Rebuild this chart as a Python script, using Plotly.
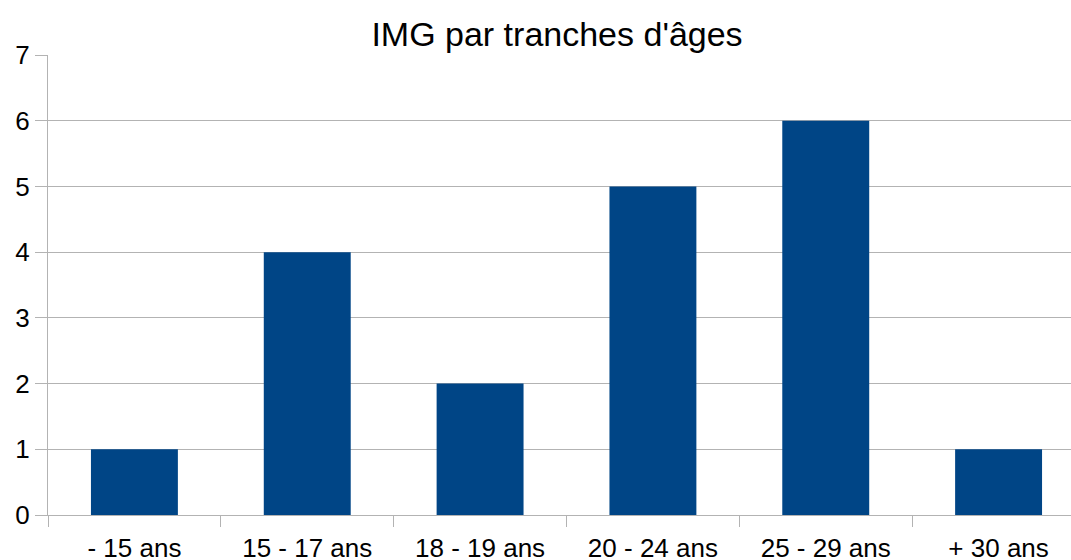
import plotly.graph_objects as go

categories = ["- 15 ans", "15 - 17 ans", "18 - 19 ans", "20 - 24 ans", "25 - 29 ans", "+ 30 ans"]
values = [1, 4, 2, 5, 6, 1]
title_text = "IMG par tranches d'âges"

FONT = "Liberation Sans, Arial, sans-serif"
GRID = "#b3b3b3"

fig = go.Figure(go.Bar(x=categories, y=values, marker_color="#004586", marker_line_width=0))

fig.update_layout(
    width=1071, height=560,
    margin=dict(l=48, r=0, t=55, b=45, autoexpand=False),
    paper_bgcolor="white", plot_bgcolor="white",
    bargap=0.497,
    showlegend=False,
    font=dict(family=FONT, size=26, color="black"),
    title=dict(text=title_text, font=dict(family=FONT, size=34, color="black"),
               x=557 / 1071, xanchor="center", xref="container",
               y=1 - 46 / 560, yanchor="bottom", yref="container", pad=dict(t=0, b=0)),
)
fig.update_xaxes(
    type="category", range=[-0.5, 5.419], tickson="boundaries",
    ticks="outside", ticklen=11, tickcolor=GRID, tickwidth=1,
    showline=True, linecolor=GRID, linewidth=1,
    showgrid=False, automargin=False,
    tickfont=dict(family=FONT, size=26, color="black"),
    ticklabelstandoff=10,
)
fig.update_yaxes(
    range=[0, 7], dtick=1,
    ticks="outside", ticklen=12, tickcolor=GRID, tickwidth=1,
    showline=True, linecolor=GRID, linewidth=1,
    showgrid=True, gridcolor=GRID, gridwidth=1,
    zeroline=False, automargin=False,
    tickfont=dict(family=FONT, size=26, color="black"),
)

fig.write_html("out.html", config={"displayModeBar": False},
               post_script="document.body.style.margin='0';document.body.style.padding='0';")
